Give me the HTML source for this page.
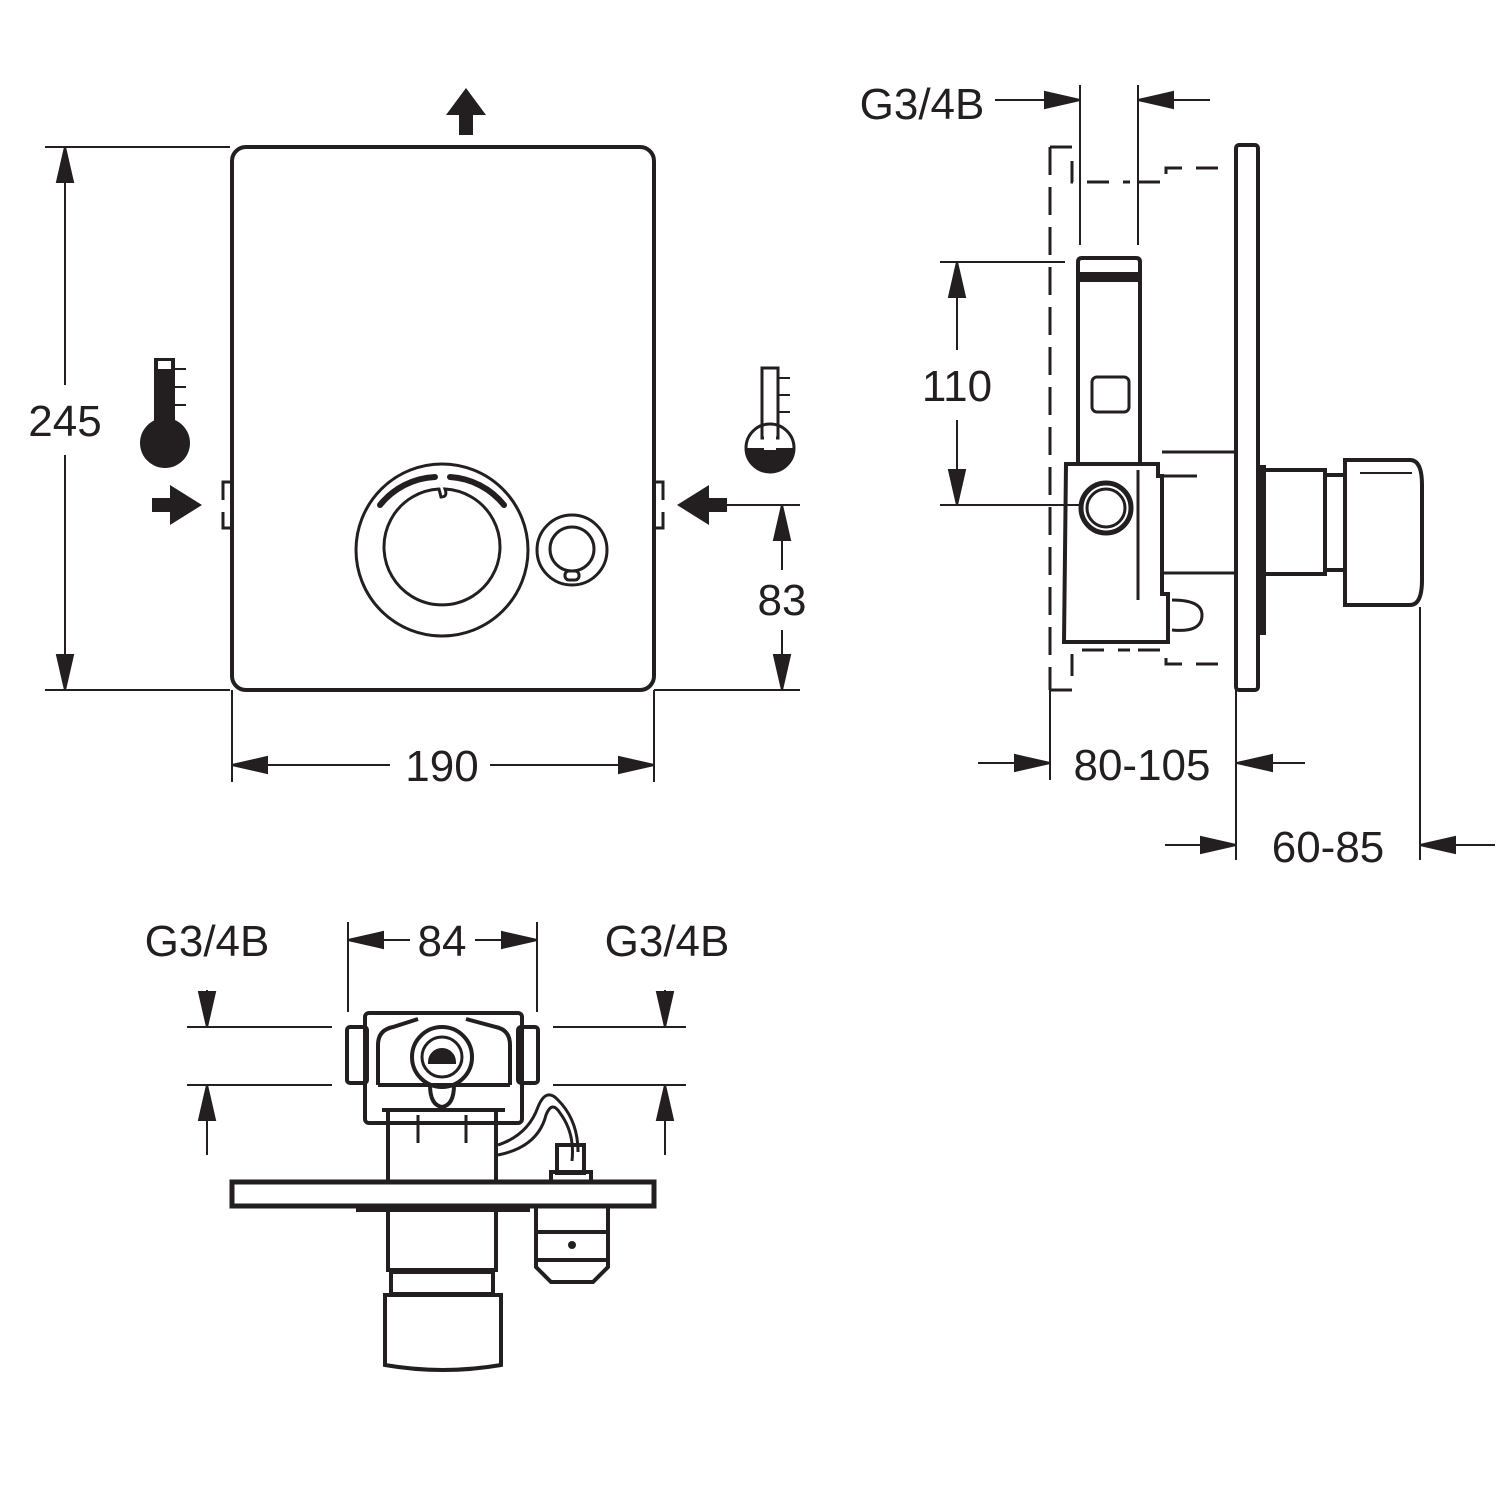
<!DOCTYPE html>
<html><head><style>html,body{margin:0;padding:0;background:#fff}svg{display:block}text{font-family:"Liberation Sans",sans-serif;font-size:44px;fill:#231f20;stroke:none;text-anchor:middle}</style></head>
<body>
<svg width="1500" height="1500" viewBox="0 0 1500 1500" xmlns="http://www.w3.org/2000/svg">
<g stroke="#231f20" fill="none" stroke-width="2">
<!-- FRONT VIEW -->
<rect x="232" y="147" width="422" height="543" rx="14" stroke-width="4"/>
<path d="M466,88 L486,115 L473,115 L473,135 L459,135 L459,115 L446,115 Z" fill="#231f20" stroke="none"/>
<line x1="45" y1="147" x2="230" y2="147"/><line x1="45" y1="690" x2="230" y2="690"/>
<path d="M65,147 l-8,35 h16 z" fill="#231f20"/>
<path d="M65,690 l-8,-35 h16 z" fill="#231f20"/>
<line x1="65" y1="147" x2="65" y2="385"/><line x1="65" y1="455" x2="65" y2="690"/>
<text x="65" y="436">245</text>
<!-- left thermometer -->
<rect x="154" y="358" width="21" height="70" fill="#231f20" stroke="none"/>
<rect x="158" y="361" width="13" height="8" fill="#fff" stroke="none"/>
<circle cx="165" cy="443" r="25" fill="#231f20" stroke="none"/>
<line x1="175" y1="369" x2="186" y2="369"/><line x1="175" y1="387" x2="186" y2="387"/><line x1="175" y1="405" x2="186" y2="405"/>
<!-- right thermometer -->
<rect x="762" y="368" width="16" height="70" stroke-width="3"/>
<path d="M746,448 a24,24 0 0 0 48,0 z" fill="#231f20" stroke="none"/>
<circle cx="770" cy="448" r="24" stroke-width="3" fill="none"/>
<rect x="764" y="430" width="12" height="20" fill="#fff" stroke="none"/>
<line x1="778" y1="378" x2="790" y2="378"/><line x1="778" y1="395" x2="790" y2="395"/><line x1="778" y1="412" x2="790" y2="412"/>
<!-- inlet arrows -->
<path d="M152,498 h18 v-13 l32,20 -32,20 v-13 h-18 z" fill="#231f20" stroke="none"/>
<path d="M727,498 h-18 v-13 l-32,20 32,20 v-13 h18 z" fill="#231f20" stroke="none"/>
<path d="M232,482 h-9 v18 M223,512 v16 h9" stroke-width="3"/>
<path d="M654,482 h9 v18 M663,512 v16 h-9" stroke-width="3"/>
<!-- knob -->
<circle cx="442" cy="550" r="86" stroke-width="3"/>
<path d="M439,489 A58,58 0 1 0 445,489 Q448,497 441,497 Z" stroke-width="3"/>
<path d="M380,505 A75,75 0 0 1 435,477" stroke-width="6" stroke-linecap="round"/>
<path d="M450,477 A75,75 0 0 1 504,505" stroke-width="6" stroke-linecap="round"/>
<circle cx="572" cy="550" r="35" stroke-width="3"/>
<circle cx="572" cy="549" r="22" stroke-width="3"/>
<rect x="565" y="571" width="14" height="9" rx="4" stroke-width="3"/>
<!-- 83 -->
<line x1="727" y1="505" x2="800" y2="505"/><line x1="654" y1="690" x2="800" y2="690"/>
<line x1="782" y1="505" x2="782" y2="570"/><line x1="782" y1="630" x2="782" y2="690"/>
<path d="M782,505 l-8,35 h16 z M782,690 l-8,-35 h16 z" fill="#231f20"/>
<text x="782" y="615">83</text>
<!-- 190 -->
<line x1="232" y1="690" x2="232" y2="782"/><line x1="654" y1="690" x2="654" y2="782"/>
<line x1="232" y1="765" x2="390" y2="765"/><line x1="490" y1="765" x2="654" y2="765"/>
<path d="M232,765 l35,-8 v16 z M654,765 l-35,-8 v16 z" fill="#231f20"/>
<text x="442" y="781">190</text>

<!-- SIDE VIEW -->
<text x="922" y="119">G3/4B</text>
<line x1="995" y1="100" x2="1080" y2="100"/><path d="M1080,100 l-35,-8 v16 z" fill="#231f20"/>
<line x1="1210" y1="100" x2="1138" y2="100"/><path d="M1138,100 l35,-8 v16 z" fill="#231f20"/>
<line x1="1080" y1="85" x2="1080" y2="245"/><line x1="1138" y1="85" x2="1138" y2="245"/>
<line x1="1050" y1="147" x2="1050" y2="690" stroke-dasharray="28,12" stroke-width="3"/>
<path d="M1050,147 h22 v35 h58 M1138,182 h28 v-14 h62" stroke-dasharray="22,14" stroke-width="3"/>
<path d="M1050,690 h22 v-40 h58 M1138,650 h28 v14 h62" stroke-dasharray="22,14" stroke-width="3"/>
<rect x="1236" y="145" width="22" height="545" rx="3" stroke-width="4"/>
<line x1="940" y1="262" x2="1065" y2="262"/><line x1="940" y1="505" x2="1080" y2="505"/>
<line x1="957" y1="262" x2="957" y2="350"/><line x1="957" y1="420" x2="957" y2="505"/>
<path d="M957,262 l-8,35 h16 z M957,505 l-8,-35 h16 z" fill="#231f20"/>
<text x="957" y="401">110</text>
<!-- column -->
<path d="M1078,465 V262 q0,-4 4,-4 h54 q4,0 4,4 V465" stroke-width="4"/>
<rect x="1080" y="272" width="58" height="10" fill="#231f20" stroke="none"/>
<rect x="1092" y="377" width="37" height="35" rx="5" stroke-width="3"/>
<path d="M1066,464 h92 v12 h4 v118 h6 v48 h-104 z" stroke-width="4"/>
<circle cx="1106" cy="508" r="25" stroke-width="5"/>
<circle cx="1106" cy="508" r="19" stroke-width="3"/>
<line x1="1138" y1="470" x2="1138" y2="600" stroke-width="3"/>
<path d="M1162,452 h74 M1162,573 h74 M1162,476 h35" stroke-width="3"/>
<path d="M1172,600 q30,0 30,15 q0,18 -30,15" stroke-width="3"/>
<rect x="1258" y="465" width="8" height="170" fill="#231f20" stroke="none"/>
<path d="M1266,470 h59 v104 h-59 M1325,475 h20 v95 h-20" stroke-width="4"/>
<path d="M1345,460 h65 q12,0 12,25 v95 q0,25 -12,25 h-65 z" stroke-width="4"/>
<line x1="1360" y1="473" x2="1412" y2="473"/>
<!-- 80-105 / 60-85 -->
<line x1="1050" y1="690" x2="1050" y2="780"/>
<line x1="978" y1="763" x2="1050" y2="763"/><path d="M1050,763 l-35,-8 v16 z" fill="#231f20"/>
<line x1="1236" y1="690" x2="1236" y2="860"/>
<line x1="1305" y1="763" x2="1237" y2="763"/><path d="M1237,763 l35,-8 v16 z" fill="#231f20"/>
<text x="1142" y="780">80-105</text>
<line x1="1420" y1="607" x2="1420" y2="860"/>
<line x1="1165" y1="845" x2="1236" y2="845"/><path d="M1236,845 l-35,-8 v16 z" fill="#231f20"/>
<line x1="1495" y1="845" x2="1420" y2="845"/><path d="M1420,845 l35,-8 v16 z" fill="#231f20"/>
<text x="1328" y="862">60-85</text>

<!-- BOTTOM VIEW -->
<text x="207" y="956">G3/4B</text><text x="667" y="956">G3/4B</text>
<text x="442" y="956">84</text>
<line x1="348" y1="922" x2="348" y2="1012"/><line x1="537" y1="922" x2="537" y2="1012"/>
<line x1="348" y1="940" x2="410" y2="940"/><line x1="475" y1="940" x2="537" y2="940"/>
<path d="M348,940 l35,-8 v16 z M537,940 l-35,-8 v16 z" fill="#231f20"/>
<line x1="187" y1="1027" x2="332" y2="1027"/><line x1="187" y1="1085" x2="332" y2="1085"/>
<line x1="553" y1="1027" x2="686" y2="1027"/><line x1="553" y1="1085" x2="686" y2="1085"/>
<line x1="207" y1="990" x2="207" y2="1027"/><path d="M207,1027 l-8,-35 h16 z" fill="#231f20"/>
<line x1="207" y1="1155" x2="207" y2="1085"/><path d="M207,1085 l-8,35 h16 z" fill="#231f20"/>
<line x1="665" y1="990" x2="665" y2="1027"/><path d="M665,1027 l-8,-35 h16 z" fill="#231f20"/>
<line x1="665" y1="1155" x2="665" y2="1085"/><path d="M665,1085 l-8,35 h16 z" fill="#231f20"/>
<g stroke-width="4">
<rect x="347" y="1027" width="20" height="56" rx="3"/>
<rect x="518" y="1027" width="20" height="56" rx="3"/>
<rect x="365" y="1013" width="157" height="110" rx="4"/>
<path d="M378,1085 V1045 q0,-15 15,-18 l25,-8 M466,1019 l30,8 q14,3 14,18 V1085"/>
<line x1="378" y1="1085" x2="510" y2="1085"/>
<line x1="382" y1="1110" x2="505" y2="1110"/>
<circle cx="442" cy="1057" r="30"/>
<circle cx="442" cy="1057" r="20" stroke-width="3"/>
<path d="M430,1062 a12,12 0 0 1 24,0 z" fill="#231f20"/>
<path d="M430,1085 q0,20 12,22 q12,-2 12,-22"/>
<rect x="388" y="1110" width="108" height="72"/>
<path d="M418,1115 v28 M466,1115 v28" stroke-width="3"/>
<path d="M498,1145 q30,-10 40,-38 q8,-20 20,-7 q20,20 20,52 M498,1155 q40,-8 48,-40 q6,-15 14,-2 q15,20 12,48" stroke-width="3"/>
<rect x="557" y="1145" width="27" height="28"/>
<rect x="551" y="1172" width="40" height="10"/>
<rect x="232" y="1182" width="422" height="24" stroke-width="5"/>
<line x1="356" y1="1210" x2="530" y2="1210"/>
<rect x="388" y="1207" width="108" height="63"/>
<rect x="391" y="1272" width="102" height="22"/>
<path d="M385,1295 h116 v70 q-58,10 -116,0 z"/>
<path d="M536,1207 v60 l15,15 h42 l15,-15 v-60 M536,1232 h72 M536,1260 h72"/>
</g>
<circle cx="572" cy="1245" r="4" fill="#231f20" stroke="none"/>
</g>
</svg>
</body></html>
